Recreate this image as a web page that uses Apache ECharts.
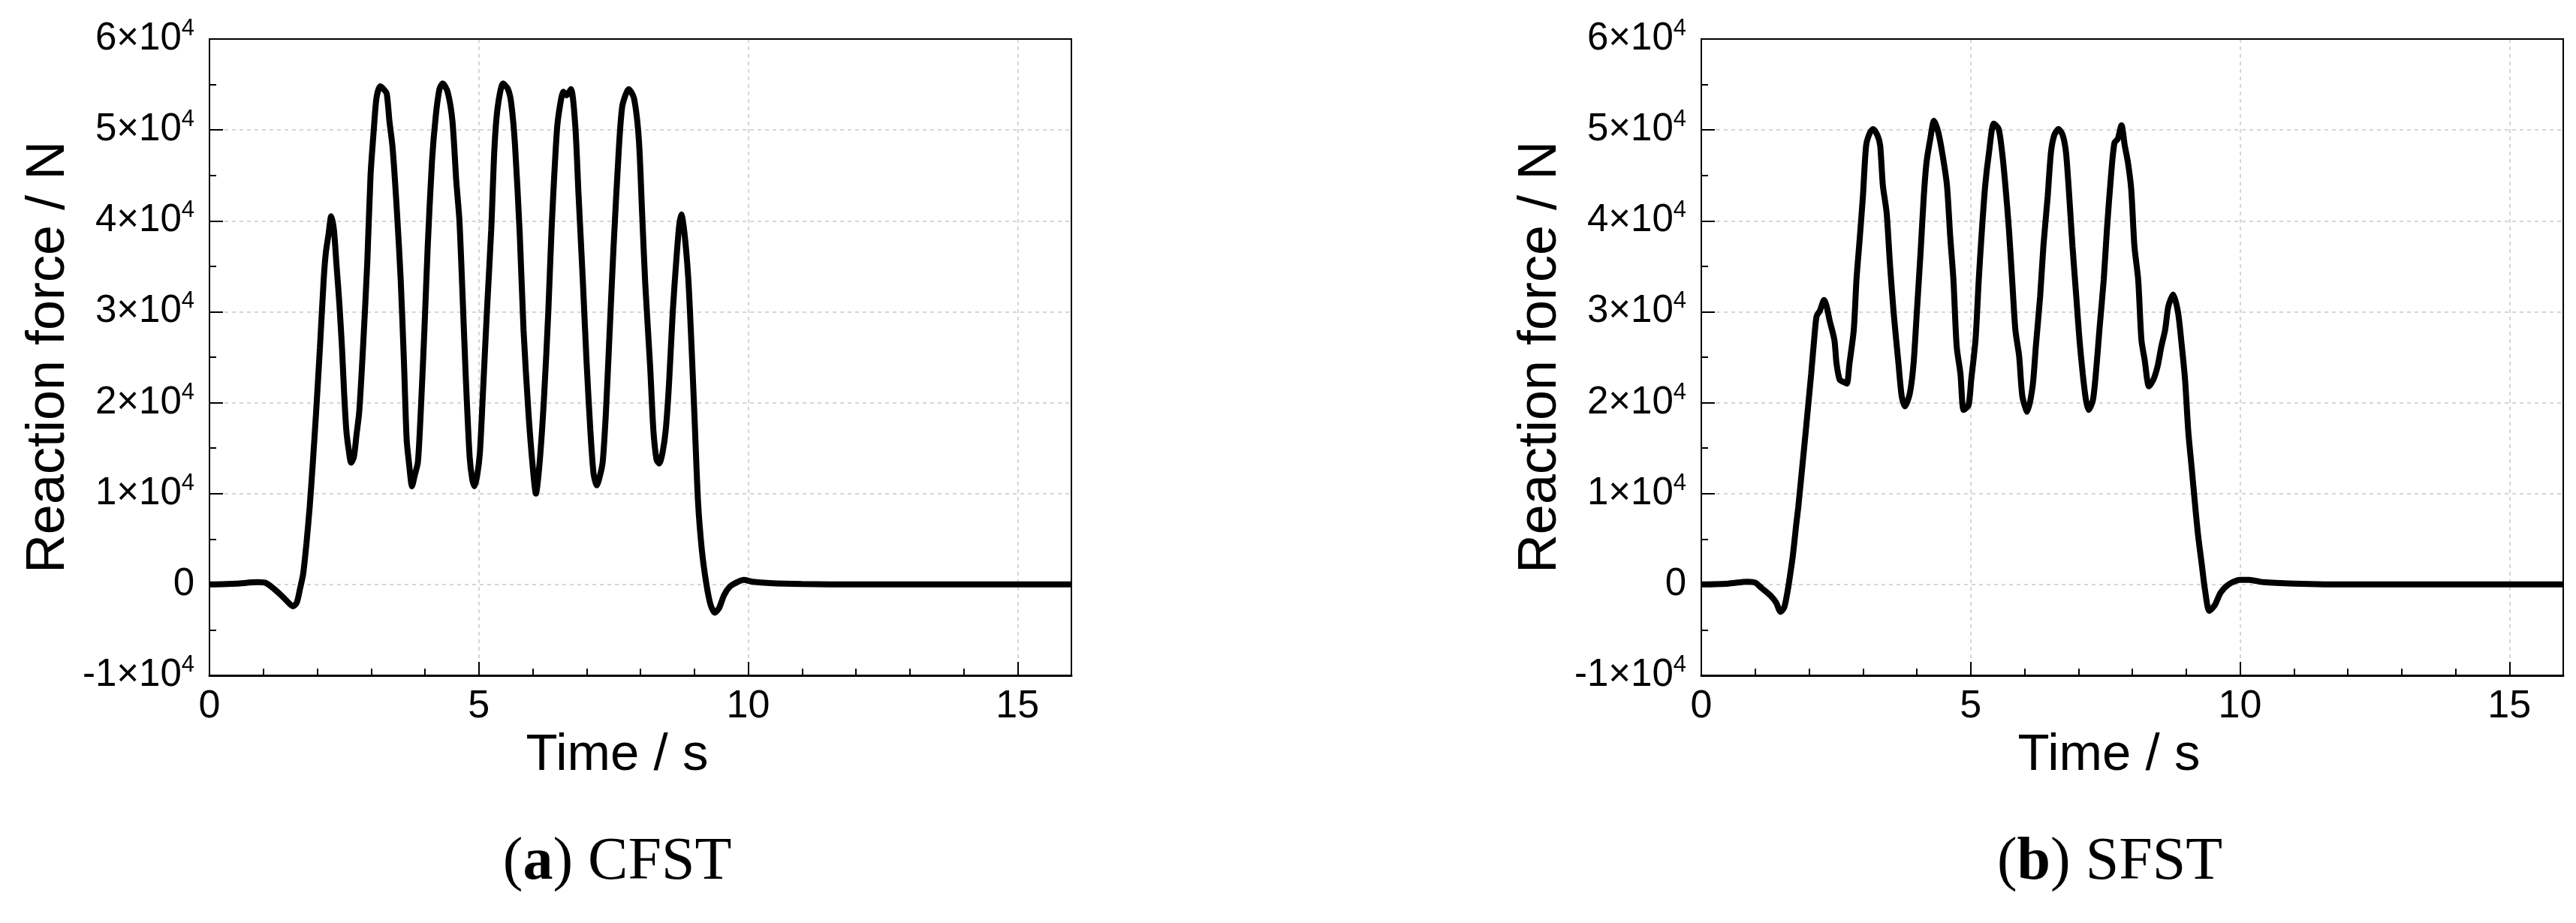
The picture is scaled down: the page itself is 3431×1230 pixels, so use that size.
<!DOCTYPE html>
<html>
<head>
<meta charset="utf-8">
<title>Reaction force - CFST / SFST</title>
<script src="https://cdn.jsdelivr.net/npm/echarts@6/dist/echarts.min.js"></script>
<style>
  html, body { margin: 0; padding: 0; background: #fff; }
  #chart { width: 3431px; height: 1230px; }
</style>
</head>
<body>
<div id="chart"></div>
<script>
// ---- data (time in s, force in N) ----
const timeCFST = [0, 0.5, 0.9, 1.05, 1.2, 1.35, 1.45, 1.55, 1.62, 1.68, 1.74, 1.8, 1.86, 1.92, 1.98,
  2.05, 2.12, 2.16, 2.21, 2.26, 2.31, 2.36, 2.41, 2.46, 2.5, 2.54, 2.58, 2.63, 2.68, 2.73, 2.78,
  2.85, 2.93, 2.99, 3.05, 3.1, 3.17, 3.23, 3.29, 3.34, 3.4, 3.48, 3.55, 3.61, 3.66, 3.71, 3.76,
  3.81, 3.87, 3.93, 3.99, 4.05, 4.13, 4.2, 4.27, 4.33, 4.42, 4.51, 4.58, 4.64, 4.7, 4.76, 4.83,
  4.88, 4.92, 4.97, 5.02, 5.08, 5.15, 5.23, 5.29, 5.35, 5.45, 5.54, 5.6, 5.67, 5.76, 5.83, 5.92,
  6.0, 6.06, 6.13, 6.21, 6.29, 6.35, 6.45, 6.51, 6.57, 6.63, 6.71, 6.79, 6.85, 6.93, 7.0, 7.07,
  7.13, 7.19, 7.25, 7.3, 7.36, 7.43, 7.5, 7.6, 7.66, 7.72, 7.78, 7.88, 7.97, 8.03, 8.09, 8.18,
  8.24, 8.3, 8.35, 8.41, 8.47, 8.53, 8.6, 8.67, 8.72, 8.76, 8.82, 8.89, 8.95, 9.01, 9.07, 9.14,
  9.22, 9.3, 9.38, 9.46, 9.55, 9.65, 9.78, 9.92, 10.08, 10.4, 11, 12, 13, 14, 15, 16]
const forceCFST = [0, 100, 250, 150, -500, -1300, -1900, -2400, -2000, -500, 1200, 4500, 8500, 13500, 19000,
  26000, 33500, 36500, 38500, 40500, 39000, 35000, 31000, 26000, 21000, 17000, 15000, 13400, 14000, 16500, 19000,
  26000, 35500, 45000, 50000, 53500, 54800, 54500, 54000, 51000, 48000, 41000, 33500, 24500, 16000, 13000, 10800,
  12000, 13500, 20000, 28000, 37000, 46500, 51500, 54500, 55100, 54200, 51000, 44500, 40000, 31500, 22500, 14000,
  11500, 10800, 12000, 14500, 21500, 30000, 39000, 48000, 52500, 55100, 54500, 53000, 48500, 38500, 28000, 19000,
  13000, 10000, 13500, 20500, 30000, 39000, 50000, 52800, 54200, 53800, 54500, 50500, 43000, 33500, 24500, 17000,
  12200, 10900, 12000, 13500, 19000, 28000, 37000, 48000, 52500, 53800, 54500, 53500, 49000, 41000, 33000, 24000,
  17000, 13700, 13300, 14500, 17000, 22000, 30000, 36000, 39500, 40700, 38500, 33500, 26000, 17500, 9000, 3800,
  200, -2200, -3100, -2600, -1200, -300, 200, 500, 300, 150, 50, 0, 0, 0, 0, 0]

const timeSFST = [0, 0.5, 0.86, 1.0, 1.12, 1.28, 1.39, 1.47, 1.54, 1.6, 1.66, 1.7, 1.76, 1.8, 1.85,
  1.91, 1.97, 2.04, 2.1, 2.14, 2.2, 2.28, 2.33, 2.38, 2.47, 2.51, 2.57, 2.63, 2.7, 2.75, 2.83,
  2.88, 2.94, 3.0, 3.06, 3.13, 3.19, 3.27, 3.32, 3.37, 3.44, 3.5, 3.57, 3.66, 3.72, 3.78, 3.87,
  3.94, 4.0, 4.07, 4.13, 4.18, 4.25, 4.32, 4.4, 4.48, 4.56, 4.62, 4.68, 4.74, 4.81, 4.87, 4.96,
  5.01, 5.09, 5.15, 5.21, 5.27, 5.34, 5.43, 5.52, 5.59, 5.65, 5.71, 5.77, 5.83, 5.9, 5.96, 6.05,
  6.15, 6.21, 6.29, 6.35, 6.43, 6.49, 6.55, 6.63, 6.71, 6.77, 6.83, 6.89, 6.96, 7.02, 7.08, 7.14,
  7.19, 7.27, 7.33, 7.39, 7.47, 7.53, 7.61, 7.67, 7.73, 7.8, 7.86, 7.92, 7.98, 8.04, 8.11, 8.17,
  8.23, 8.31, 8.39, 8.47, 8.54, 8.61, 8.67, 8.76, 8.85, 8.92, 8.98, 9.04, 9.1, 9.17, 9.22, 9.29,
  9.35, 9.43, 9.53, 9.64, 9.8, 10.0, 10.17, 10.43, 11, 12, 13, 14, 15, 16]
const forceSFST = [0, 100, 300, 200, -400, -1200, -2000, -3000, -2500, -800, 1500, 3200, 6500, 8500, 11500,
  15100, 18800, 23200, 27300, 29500, 30100, 31300, 30500, 29100, 26900, 24300, 22500, 22300, 22100, 24300, 28000,
  33500, 38000, 42700, 48300, 49700, 50100, 49400, 48300, 43900, 40900, 35400, 29900, 24300, 20700, 19600, 21000,
  24300, 29900, 36500, 42700, 46400, 49000, 51000, 49700, 47200, 43900, 38300, 33500, 26200, 23200, 19200, 19700,
  22500, 26900, 33500, 39100, 43900, 47500, 50700, 50100, 47200, 43500, 39100, 33500, 28000, 25100, 20700, 19000,
  21800, 26200, 31700, 37200, 42700, 47500, 49400, 50100, 49400, 47500, 42700, 37200, 31700, 26900, 23200, 20300,
  19200, 20300, 23600, 28000, 33500, 39100, 45300, 48600, 49000, 50500, 48300, 46400, 43500, 37200, 33500, 26900,
  24700, 21800, 22500, 24000, 26200, 28000, 30600, 31900, 29900, 26200, 22500, 16800, 13000, 8500, 5500, 2200,
  -600, -2900, -2300, -900, 50, 500, 500, 250, 100, 0, 0, 0, 0, 0]

const xTicks = [0, 5, 10, 15]
const xMax = 16
const yTicks = [-10000, 0, 10000, 20000, 30000, 40000, 50000, 60000]
const captions = [['a', 'CFST'], ['b', 'SFST']]

const sans = "'Liberation Sans', Arial, sans-serif"
const serif = "'Liberation Serif', 'Times New Roman', serif"

const gridPos = [
  { left: 279, top: 52, width: 1148, height: 848 },
  { left: 2266, top: 52, width: 1148, height: 848 }
]
// caption / x-title centres sit a bit left of the plot centres
const captionX = [822, 2810]

function zip (t, f) {
  return t.map((v, i) => [v, f[i]])
}

function yLabel (v) {
  if (v === 0) return '{n|0}'
  return '{n|' + (v < 0 ? '-' : '') + Math.abs(v / 1e4) + '×10}{s|4}'
}

const dotted = { color: '#c8c8c8', width: 1.5, type: [5, 5] }
const black = { color: '#000', width: 2 }

const xAxes = []
const yAxes = []
gridPos.forEach((g, i) => {
  xAxes.push({
    type: 'value',
    gridIndex: i,
    min: xTicks[0],
    max: xMax,
    interval: xTicks[1] - xTicks[0],
    name: 'Time / s',
    nameLocation: 'middle',
    nameGap: 60,
    nameTextStyle: { fontSize: 69, fontFamily: sans, color: '#000', padding: [0, 62, 0, 0] },
    axisLine: { show: true, onZero: false, lineStyle: { color: '#000', width: 3 } },
    axisTick: { show: true, inside: true, length: 18, lineStyle: black },
    minorTick: { show: true, splitNumber: 5, length: 9, lineStyle: black },
    axisLabel: { fontSize: 52, fontFamily: sans, color: '#000', margin: 16, showMaxLabel: false },
    splitLine: { show: true, showMinLine: false, showMaxLine: false, lineStyle: dotted }
  })
  // top frame edge
  xAxes.push({
    type: 'value',
    gridIndex: i,
    position: 'top',
    min: xTicks[0],
    max: xMax,
    axisLine: { show: true, onZero: false, lineStyle: black },
    axisTick: { show: false },
    axisLabel: { show: false },
    splitLine: { show: false }
  })
  yAxes.push({
    type: 'value',
    gridIndex: i,
    min: yTicks[0],
    max: yTicks[yTicks.length - 1],
    interval: yTicks[1] - yTicks[0],
    name: 'Reaction force / N',
    nameLocation: 'middle',
    nameGap: 178,
    nameTextStyle: { fontSize: 72, fontFamily: sans, color: '#000' },
    axisLine: { show: true, onZero: false, lineStyle: black },
    axisTick: { show: true, inside: true, length: 18, lineStyle: black },
    minorTick: { show: true, splitNumber: 2, length: 9, lineStyle: black },
    axisLabel: {
      margin: 20,
      color: '#000',
      formatter: yLabel,
      rich: {
        n: { fontSize: 51, fontFamily: sans, color: '#000', lineHeight: 58 },
        s: { fontSize: 31, fontFamily: sans, color: '#000', lineHeight: 30, verticalAlign: 'top' }
      }
    },
    splitLine: { show: true, showMinLine: false, showMaxLine: false, lineStyle: dotted }
  })
  // right frame edge
  yAxes.push({
    type: 'value',
    gridIndex: i,
    position: 'right',
    min: yTicks[0],
    max: yTicks[yTicks.length - 1],
    axisLine: { show: true, onZero: false, lineStyle: black },
    axisTick: { show: false },
    axisLabel: { show: false },
    splitLine: { show: false }
  })
})

const option = {
  backgroundColor: '#fff',
  animation: false,
  grid: gridPos.map(g => ({ ...g, show: false })),
  xAxis: xAxes,
  yAxis: yAxes,
  series: [
    { name: 'CFST', data: zip(timeCFST, forceCFST), xAxisIndex: 0, yAxisIndex: 0 },
    { name: 'SFST', data: zip(timeSFST, forceSFST), xAxisIndex: 2, yAxisIndex: 2 }
  ].map(s => ({
    ...s,
    type: 'line',
    showSymbol: false,
    smooth: 0.25,
    lineStyle: { color: '#000', width: 8 },
    z: 3
  })),
  graphic: captions.map((c, i) => ({
    type: 'text',
    x: captionX[i],
    y: 1150,
    style: {
      text: '{p|(}{b|' + c[0] + '}{p|) ' + c[1] + '}',
      textAlign: 'center',
      textVerticalAlign: 'middle',
      rich: {
        p: { fontFamily: serif, fontSize: 80, fill: '#000' },
        b: { fontFamily: serif, fontSize: 80, fontWeight: 'bold', fill: '#000' }
      }
    }
  }))
}

const myChart = echarts.init(document.getElementById('chart'))
myChart.setOption(option)
window.addEventListener('resize', () => {
  myChart.resize()
})
</script>
</body>
</html>
